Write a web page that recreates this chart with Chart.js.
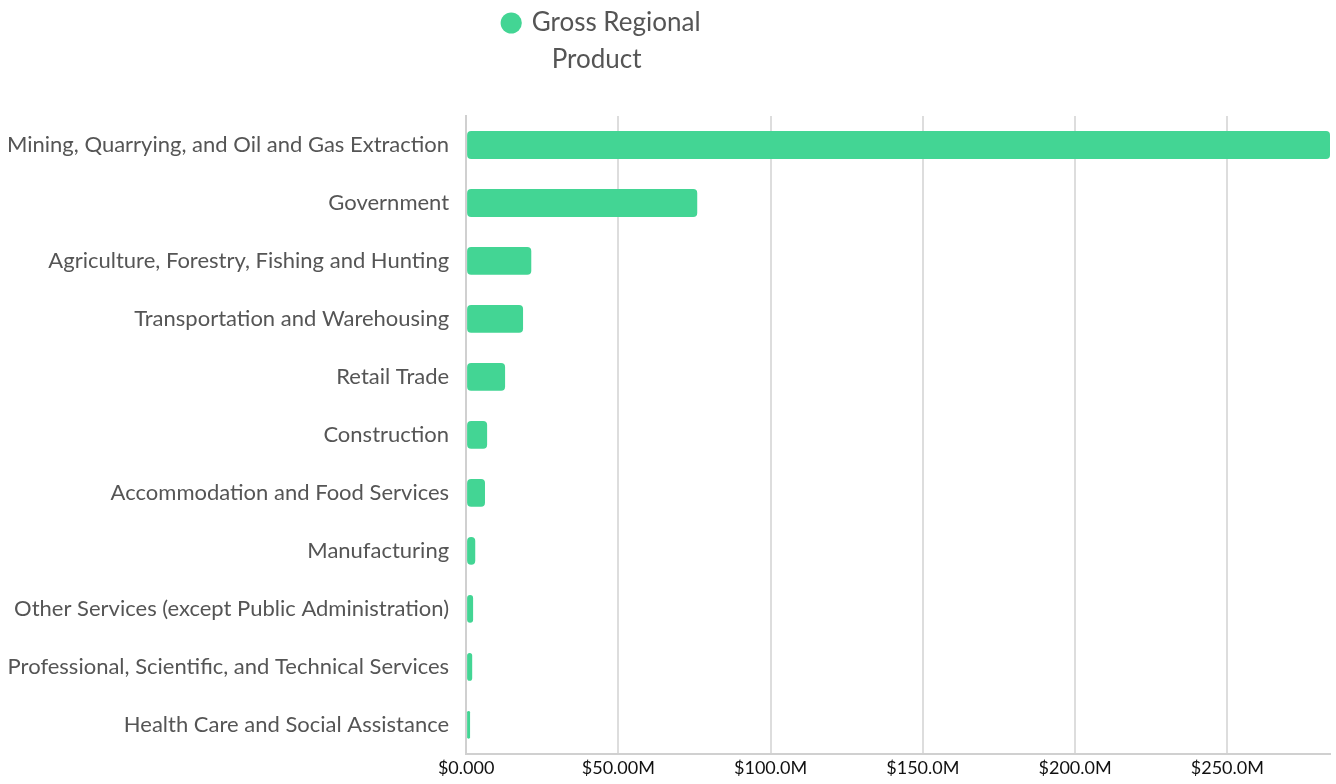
<!DOCTYPE html>
<html>
<head>
<meta charset="utf-8">
<script src="https://cdn.jsdelivr.net/npm/chart.js@4"></script>
<style>
  html, body { margin: 0; padding: 0; background: #fff; }
  #wrap { width: 1336px; height: 784px; }
</style>
</head>
<body>
<div id="wrap"><canvas id="chart"></canvas></div>
<script>
const industries = [
  'Mining, Quarrying, and Oil and Gas Extraction',
  'Government',
  'Agriculture, Forestry, Fishing and Hunting',
  'Transportation and Warehousing',
  'Retail Trade',
  'Construction',
  'Accommodation and Food Services',
  'Manufacturing',
  'Other Services (except Public Administration)',
  'Professional, Scientific, and Technical Services',
  'Health Care and Social Assistance'
];

// Gross regional product, in dollars
const grpValues = [
  283.7e6, 75.9e6, 21.4e6, 18.7e6, 12.8e6, 6.9e6, 6.2e6, 3.0e6, 2.3e6, 2.0e6, 1.3e6
];

const xTickValues = [0, 50e6, 100e6, 150e6, 200e6, 250e6];

const seriesLabel = ['Gross Regional', '   Product'];

const green = 'rgb(67, 213, 148)';
const textColor = '#555555';

// "$50.00M" style: four significant digits
function money(v) {
  if (v === 0) return '$0.000';
  const m = v / 1e6;
  return '$' + m.toPrecision(4) + 'M';
}

// the legend only sizes itself for one line of text, so give it room
// for the second line
const legendRoom = {
  id: 'legendRoom',
  beforeLayout(chart) {
    const lg = chart.legend;
    if (!lg || lg._roomPatched) return;
    lg._roomPatched = true;
    const origFit = lg.fit;
    lg.fit = function () {
      origFit.call(this);
      this.height += 70;
    };
  }
};

Chart.defaults.font.family = 'Lato, "Noto Sans", sans-serif';
Chart.defaults.color = textColor;

new Chart(document.getElementById('chart'), {
  type: 'bar',
  data: {
    labels: industries,
    datasets: [{
      label: seriesLabel,
      data: grpValues,
      backgroundColor: green,
      borderRadius: 4,
      borderSkipped: false,
      barPercentage: 0.96,
      categoryPercentage: 0.5
    }]
  },
  plugins: [legendRoom],
  options: {
    indexAxis: 'y',
    responsive: true,
    maintainAspectRatio: false,
    animation: false,
    layout: { padding: { left: -10, right: 6, top: 0, bottom: 0 } },
    plugins: {
      legend: {
        position: 'top',
        labels: {
          usePointStyle: true,
          pointStyle: 'circle',
          boxWidth: 15,
          boxHeight: 15,
          padding: 10,
          color: textColor,
          font: { size: 26, lineHeight: 1.4 }
        }
      },
      tooltip: {
        callbacks: {
          label: ctx => money(ctx.parsed.x)
        }
      }
    },
    scales: {
      x: {
        min: 0,
        max: Math.max(...grpValues),
        afterBuildTicks: axis => {
          axis.ticks = xTickValues.map(v => ({ value: v }));
        },
        afterFit: axis => {
          axis.height = 28;
        },
        ticks: {
          color: '#111',
          font: { size: 18 },
          padding: 4,
          maxRotation: 0,
          callback: v => money(v)
        },
        grid: { color: '#dddddd', lineWidth: 2, drawTicks: false },
        border: { color: '#d0d0d0', width: 2 }
      },
      y: {
        ticks: {
          color: textColor,
          font: { size: 22 },
          padding: 17
        },
        grid: { display: false, drawTicks: false },
        border: { color: '#d0d0d0', width: 2 }
      }
    }
  }
});
</script>
</body>
</html>
